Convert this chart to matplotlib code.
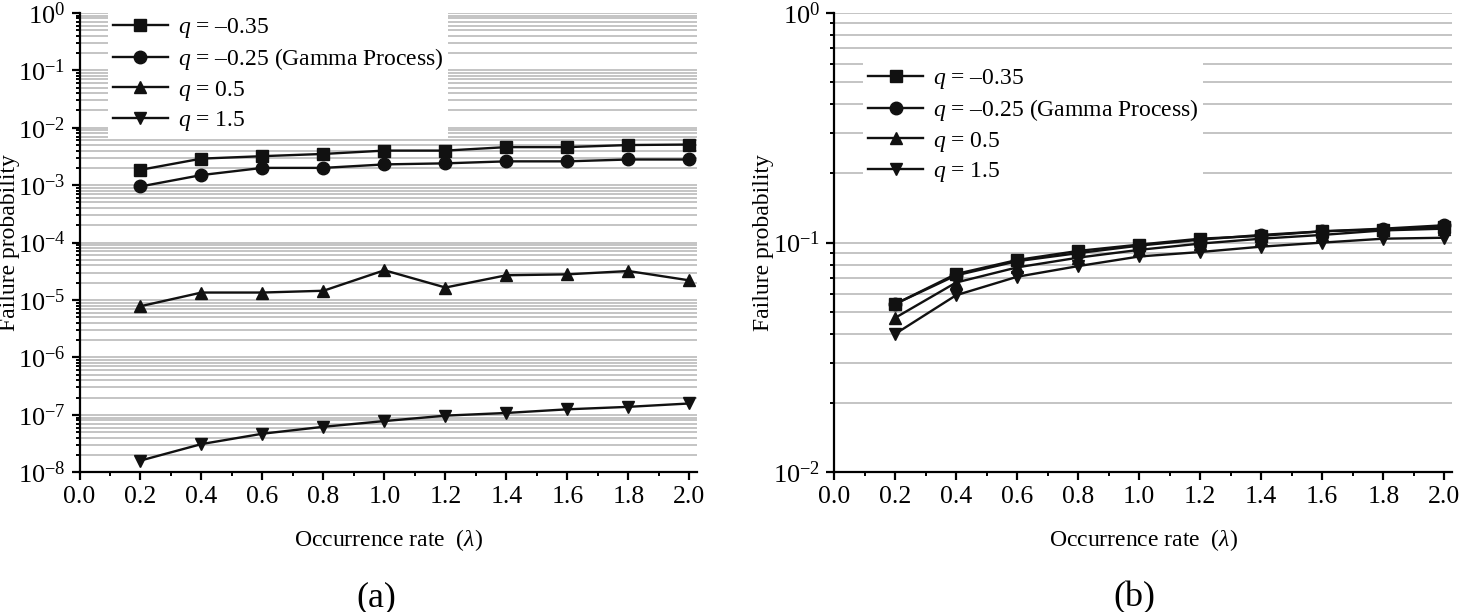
import matplotlib
matplotlib.use('Agg')
import matplotlib.pyplot as plt
import numpy as np
from matplotlib.ticker import LogLocator, FuncFormatter, MultipleLocator, NullFormatter

plt.rcParams['font.family'] = ['Liberation Serif', 'DejaVu Serif']
plt.rcParams['mathtext.fontset'] = 'custom'
plt.rcParams['mathtext.rm'] = 'Liberation Serif'
plt.rcParams['mathtext.it'] = 'Liberation Serif:italic'

# ---------------- data ----------------
rate = [0.2, 0.4, 0.6, 0.8, 1.0, 1.2, 1.4, 1.6, 1.8, 2.0]

labels = [r'$\mathit{q}$ = –0.35',
          r'$\mathit{q}$ = –0.25 (Gamma Process)',
          r'$\mathit{q}$ = 0.5',
          r'$\mathit{q}$ = 1.5']
markers = ['s', 'o', '^', 'v']

# panel (a)
a_q_m035 = [1.85e-3, 2.9e-3, 3.2e-3, 3.5e-3, 4.0e-3, 4.0e-3, 4.6e-3, 4.6e-3, 5.0e-3, 5.1e-3]
a_q_m025 = [9.5e-4, 1.5e-3, 2.0e-3, 2.0e-3, 2.3e-3, 2.4e-3, 2.6e-3, 2.6e-3, 2.8e-3, 2.8e-3]
a_q_05 = [7.8e-6, 1.35e-5, 1.35e-5, 1.45e-5, 3.3e-5, 1.65e-5, 2.7e-5, 2.8e-5, 3.2e-5, 2.2e-5]
a_q_15 = [1.6e-8, 3.1e-8, 4.7e-8, 6.2e-8, 7.8e-8, 9.7e-8, 1.08e-7, 1.25e-7, 1.38e-7, 1.58e-7]

# panel (b)
b_q_m035 = [0.054, 0.073, 0.084, 0.092, 0.098, 0.104, 0.107, 0.112, 0.114, 0.117]
b_q_m025 = [0.054, 0.072, 0.083, 0.090, 0.097, 0.103, 0.108, 0.112, 0.115, 0.119]
b_q_05 = [0.047, 0.067, 0.078, 0.086, 0.093, 0.099, 0.104, 0.108, 0.113, 0.115]
b_q_15 = [0.040, 0.059, 0.071, 0.079, 0.087, 0.091, 0.096, 0.100, 0.104, 0.105]

FS = 17
W, H = 1459, 612

fig = plt.figure(figsize=(W / 100, H / 100), dpi=100)
top_px, bot_px = 12.9, 472.3
ax_a = fig.add_axes([79.5 / W, 1 - bot_px / H, (697 - 79.5) / W, (bot_px - top_px) / H])
ax_b = fig.add_axes([834 / W, 1 - bot_px / H, (1452 - 834) / W, (bot_px - top_px) / H])


def style(ax, ylim, legend_anchor):
    ax.set_yscale('log')
    ax.set_ylim(*ylim)
    ax.set_xlim(0.0, 2.025)
    for s in ['top', 'right']:
        ax.spines[s].set_visible(False)
    for s in ['left', 'bottom']:
        ax.spines[s].set_linewidth(1.6)
    ax.xaxis.set_major_locator(MultipleLocator(0.2))
    ax.xaxis.set_minor_locator(MultipleLocator(0.1))
    ax.xaxis.set_major_formatter(FuncFormatter(lambda v, p: '%.1f' % v))
    ax.yaxis.set_major_locator(LogLocator(base=10, numticks=20))
    ax.yaxis.set_minor_locator(LogLocator(base=10, subs=np.arange(2, 10), numticks=20))
    ax.yaxis.set_minor_formatter(NullFormatter())
    ax.yaxis.set_major_formatter(FuncFormatter(
        lambda v, p: r'$\mathregular{10^{%d}}$' % int(round(np.log10(v)))))
    ax.tick_params(axis='both', which='major', direction='out', length=6, width=1.6)
    ax.tick_params(axis='x', which='major', pad=4, labelsize=18.5)
    ax.tick_params(axis='y', which='major', pad=4, labelsize=19)
    ax.tick_params(axis='both', which='minor', direction='out', length=3.2, width=1.4)
    ax.yaxis.grid(True, which='both', color='#bfbfbf', linewidth=1.3)
    ax.set_axisbelow(True)
    ax.set_xlabel(r'Occurrence rate  ($\mathit{\lambda}$)', fontsize=FS)
    ax.xaxis.set_label_coords(0.5, -0.12)
    ax.set_ylabel('Failure probability', fontsize=FS)
    ax.yaxis.set_label_coords(-0.097, 0.5)
    leg = ax.legend(loc='upper left', bbox_to_anchor=legend_anchor, fontsize=FS,
                    frameon=True, fancybox=False, edgecolor='none', facecolor='white',
                    framealpha=1.0, handlelength=2.35, handletextpad=0.4,
                    labelspacing=0.27, borderaxespad=0.0, borderpad=0.2, numpoints=1)
    leg.get_frame().set_linewidth(0)


for ax, series in [(ax_a, [a_q_m035, a_q_m025, a_q_05, a_q_15]),
                   (ax_b, [b_q_m035, b_q_m025, b_q_05, b_q_15])]:
    for vals, m, lab in zip(series, markers, labels):
        ax.plot(rate, vals, color='#111111', lw=1.7, marker=m, markersize=9,
                label=lab, clip_on=False, zorder=3)

style(ax_a, (1e-8, 1.0), (0.046, 1.004))
style(ax_b, (1e-2, 1.0), (0.047, 0.893))

fig.text(376 / W, 1 - 598 / H, '(a)', fontsize=26, ha='center', va='center')
fig.text(1134 / W, 1 - 598 / H, '(b)', fontsize=26, ha='center', va='center')

fig.savefig('out.png', dpi=100)
